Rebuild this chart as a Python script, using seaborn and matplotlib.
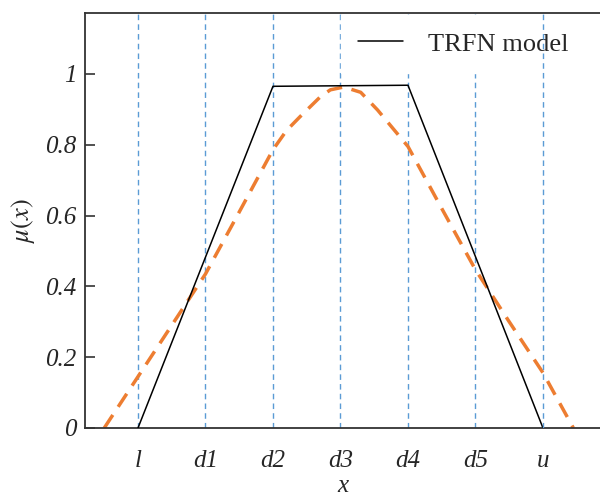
import numpy as np
import pandas as pd
import matplotlib
matplotlib.use("Agg")
import matplotlib.pyplot as plt
import seaborn as sns

# tick positions / labels on x
x_ticks = [1, 2, 3, 4, 5, 6, 7]
x_labels = ["l", "d1", "d2", "d3", "d4", "d5", "u"]
y_ticks = [0, 0.2, 0.4, 0.6, 0.8, 1]
y_labels = ["0", "0.2", "0.4", "0.6", "0.8", "1"]

# TRFN model (trapezoid)
trfn_x = [1, 3, 5, 7]
trfn_y = [0, 0.965, 0.968, 0]

# orange dashed curve
curve_x = [0.5, 1, 1.5, 2, 2.5, 3, 3.2, 3.4, 3.7, 3.85, 4.05, 4.3, 4.55, 5, 5.5, 6, 6.5, 7, 7.45]
curve_y = [0, 0.145, 0.29, 0.435, 0.61, 0.786, 0.84, 0.879, 0.935, 0.955, 0.963, 0.948, 0.898,
           0.795, 0.62, 0.447, 0.30, 0.156, 0]

sns.set_style("white")
plt.rcParams['font.family'] = ['Liberation Serif', 'DejaVu Serif']
plt.rcParams['mathtext.fontset'] = 'stix'

fig = plt.figure(figsize=(6, 4.97), dpi=100)
ax = fig.add_axes([85 / 600, 69 / 497, 515 / 600, 415 / 497])

blue = "#5B9BD5"
for xv in x_ticks:
    ax.axvline(xv, color=blue, lw=1, linestyle=(0, (4, 3)), zorder=1 if xv != 7 else 6)

trfn = pd.DataFrame({"x": trfn_x, "y": trfn_y})
curve = pd.DataFrame({"x": curve_x, "y": curve_y})
sns.lineplot(data=trfn, x="x", y="y", ax=ax, color="black", lw=1.1, label="TRFN model",
             sort=False, zorder=3)
sns.lineplot(data=curve, x="x", y="y", ax=ax, color="#ED7D31", lw=2.5, sort=False,
             zorder=2, linestyle=(0, (4.5, 2.8)))

ax.set_xlim(0.215, 7.845)
ax.set_ylim(0, 1.172)
ax.set_xticks(x_ticks)
ax.set_xticklabels(x_labels, fontstyle="italic", fontsize=18)
ax.set_yticks(y_ticks)
ax.set_yticklabels(y_labels, fontstyle="italic", fontsize=18)
ax.tick_params(axis="x", length=0, pad=16)
ax.tick_params(axis="y", direction="in", length=7, width=1.2, color="#333333", pad=6, left=True)

ax.set_xlabel("x", fontstyle="italic", fontsize=18, labelpad=2)
ax.set_ylabel(r"$\mu(x)$", fontsize=19, labelpad=6)

for side in ["left", "bottom", "top"]:
    ax.spines[side].set_visible(True)
    ax.spines[side].set_color("#333333")
    ax.spines[side].set_linewidth(1.3)
ax.spines["right"].set_visible(False)

leg = ax.legend(loc="upper left", bbox_to_anchor=(0.497, 0.995), frameon=True, fontsize=19,
                handlelength=1.7, handletextpad=0.95, borderpad=0.65, borderaxespad=0)
leg.get_frame().set_facecolor("white")
leg.get_frame().set_edgecolor("white")
leg.get_frame().set_alpha(1)
leg.get_frame().set_boxstyle("square", pad=0)

fig.savefig("out.png", dpi=100)
